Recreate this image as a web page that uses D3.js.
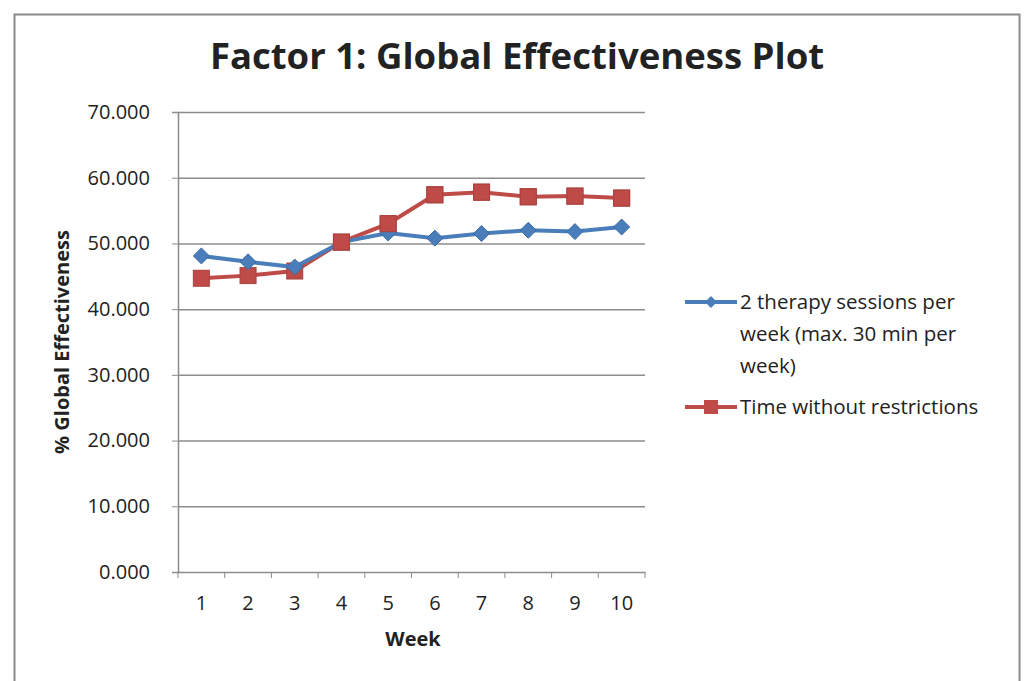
<!DOCTYPE html>
<html>
<head>
<meta charset="utf-8">
<script src="https://cdn.jsdelivr.net/npm/d3@7"></script>
<style>
  body { margin: 0; background: #fff; }
  text { font-family: "Open Sans", sans-serif; fill: #222; }
</style>
</head>
<body>
<div id="chart"></div>
<script>
// data
var weeks = ["1", "2", "3", "4", "5", "6", "7", "8", "9", "10"];
var twoSessions = [48.1, 47.2, 46.4, 50.2, 51.6, 50.8, 51.5, 52.0, 51.8, 52.5];
var noRestrictions = [44.7, 45.1, 45.8, 50.2, 53.0, 57.4, 57.8, 57.1, 57.2, 56.9];
var yTicks = [0, 10, 20, 30, 40, 50, 60, 70];
var seriesNames = ["2 therapy sessions per week (max. 30 min per week)", "Time without restrictions"];

var W = 1031, H = 681;
var margin = {top: 112, left: 178},
    width = 645 - 178,
    height = 572 - 112;

var svg = d3.select("#chart").append("svg")
    .attr("width", W).attr("height", H);

// chart border
svg.append("rect")
    .attr("x", 14.5).attr("y", 14.5)
    .attr("width", 1005).attr("height", 700)
    .attr("fill", "none").attr("stroke", "#8a8a8a").attr("stroke-width", 2);

var g = svg.append("g")
    .attr("transform", "translate(" + margin.left + "," + margin.top + ")");

var x = d3.scaleBand().domain(weeks).range([0, width]);
var y = d3.scaleLinear().domain([0, 70]).range([height, 0]);

// gridlines
g.selectAll(".grid")
    .data(yTicks.slice(1))
    .enter().append("line")
    .attr("x1", 0).attr("x2", width)
    .attr("y1", d => y(d) + 0.5).attr("y2", d => y(d) + 0.5)
    .attr("stroke", "#8c8c8c").attr("stroke-width", 1.5);

// y axis
var yAxis = g.append("g")
    .call(d3.axisLeft(y).tickValues(yTicks).tickSize(6).tickPadding(22)
        .tickFormat(d => d3.format(".3f")(d)));
yAxis.select(".domain").attr("stroke", "#8c8c8c").attr("stroke-width", 1.5);
yAxis.selectAll(".tick line").attr("stroke", "#8c8c8c");
yAxis.selectAll("text").style("font-size", "20px").attr("fill", "#222");

// x axis
var xAxis = g.append("g")
    .attr("transform", "translate(0," + height + ")")
    .call(d3.axisBottom(x).tickSize(0).tickPadding(24));
xAxis.select(".domain").attr("stroke", "#8c8c8c").attr("stroke-width", 1.5);
xAxis.selectAll("text").style("font-size", "20px").attr("fill", "#222");
// category boundary ticks
xAxis.selectAll(".bound")
    .data(weeks.concat(["end"]))
    .enter().append("line")
    .attr("x1", (d, i) => i * x.step()).attr("x2", (d, i) => i * x.step())
    .attr("y1", 0).attr("y2", 6)
    .attr("stroke", "#8c8c8c");

// axis titles
svg.append("text")
    .attr("x", 413).attr("y", 646)
    .attr("text-anchor", "middle")
    .style("font-size", "20px").style("font-weight", "bold")
    .text("Week");

svg.append("text")
    .attr("transform", "translate(69,342) rotate(-90)")
    .attr("text-anchor", "middle")
    .style("font-size", "20px").style("font-weight", "bold")
    .text("% Global Effectiveness");

// title
svg.append("text")
    .attr("x", 517).attr("y", 69)
    .attr("text-anchor", "middle")
    .style("font-size", "36.5px").style("font-weight", "bold")
    .text("Factor 1: Global Effectiveness Plot");

var line = d3.line()
    .x((d, i) => x(weeks[i]) + x.bandwidth() / 2)
    .y(d => y(d));

var blue = "#4a7ebb", red = "#be4b48";

// red series (drawn first, blue over it only where lines cross)
g.append("path").datum(noRestrictions)
    .attr("d", line).attr("fill", "none")
    .attr("stroke", red).attr("stroke-width", 4);
g.selectAll(".sq").data(noRestrictions).enter().append("rect")
    .attr("x", (d, i) => x(weeks[i]) + x.bandwidth() / 2 - 8)
    .attr("y", d => y(d) - 8)
    .attr("width", 16).attr("height", 16)
    .attr("fill", red).attr("stroke", "#a9403d").attr("stroke-width", 1);

g.append("path").datum(twoSessions)
    .attr("d", line).attr("fill", "none")
    .attr("stroke", blue).attr("stroke-width", 4);
g.selectAll(".dm").data(twoSessions).enter().append("path")
    .attr("transform", (d, i) => "translate(" + (x(weeks[i]) + x.bandwidth() / 2) + "," + y(d) + ")")
    .attr("d", "M0,-8L8,0L0,8L-8,0Z")
    .attr("fill", blue).attr("stroke", "#3a6aa3");

// redraw red markers on top where they overlap later weeks
g.selectAll(".sq2").data(noRestrictions.slice(3)).enter().append("rect")
    .attr("x", (d, i) => x(weeks[i + 3]) + x.bandwidth() / 2 - 8)
    .attr("y", d => y(d) - 8)
    .attr("width", 16).attr("height", 16)
    .attr("fill", red).attr("stroke", "#a9403d");

// legend
var legend = svg.append("g");
var leg = [
  {color: blue, y: 302, lines: ["2 therapy sessions per", "week (max. 30 min per", "week)"], shape: "diamond"},
  {color: red, y: 407, lines: ["Time without restrictions"], shape: "square"}
];
leg.forEach(function (l) {
  legend.append("line")
    .attr("x1", 685).attr("x2", 737)
    .attr("y1", l.y).attr("y2", l.y)
    .attr("stroke", l.color).attr("stroke-width", 4);
  if (l.shape === "diamond") {
    legend.append("path")
      .attr("transform", "translate(711," + l.y + ")")
      .attr("d", "M0,-6L6,0L0,6L-6,0Z").attr("fill", l.color);
  } else {
    legend.append("rect")
      .attr("x", 704).attr("y", l.y - 7).attr("width", 14).attr("height", 14)
      .attr("fill", l.color);
  }
  var t = legend.append("text")
    .attr("x", 740).attr("y", l.y + 7)
    .style("font-size", "20.5px");
  l.lines.forEach(function (s, i) {
    t.append("tspan").attr("x", 740).attr("dy", i === 0 ? 0 : 32).text(s);
  });
});
</script>
</body>
</html>
